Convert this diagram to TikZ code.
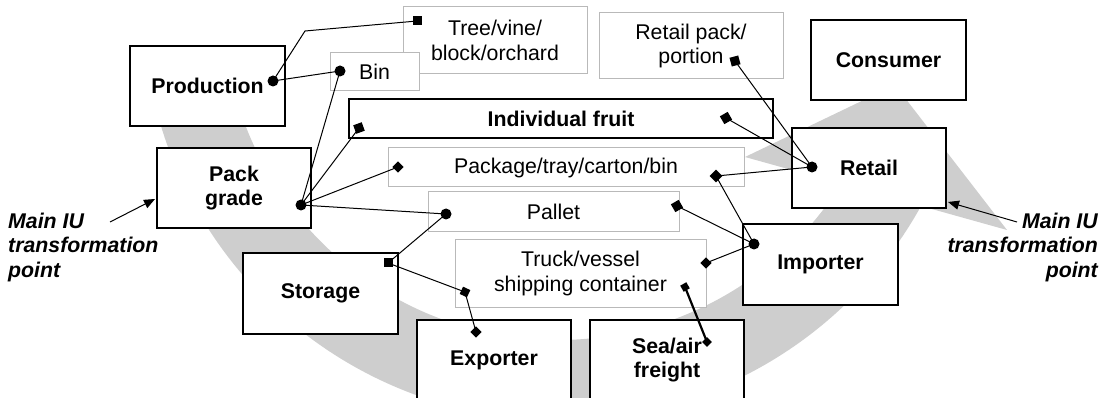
\documentclass[tikz,border=0pt]{standalone}
\usepackage{fontspec}
\setmainfont{Liberation Sans}
\usetikzlibrary{arrows.meta}
\definecolor{band}{RGB}{206,206,206}
\definecolor{lbox}{RGB}{185,185,185}
\begin{document}
\begin{tikzpicture}[x=1pt,y=-1pt,
  bbox/.style={draw=black, line width=1.1pt, fill=white, inner sep=0pt, align=center, font=\fontsize{21.3}{24.5}\selectfont\bfseries},
  tbox/.style={bbox, line width=1.5pt},
  gbox/.style={draw=lbox, line width=1pt, fill=white, inner sep=0pt, align=center, font=\fontsize{21.3}{24.5}\selectfont},
  mdot/.style={circle, fill=black, minimum size=11pt, inner sep=0pt},
  sq/.style={rectangle, fill=black, minimum size=9pt, inner sep=0pt},
  dm/.style={sq, minimum size=8pt, rotate=45},
  mlink/.style={line width=1pt},
  lbl/.style={inner sep=0pt, font=\fontsize{21.3}{24.5}\selectfont\bfseries\itshape}
]
\path[use as bounding box] (0,0) rectangle (1106,398);
\clip (0,0) rectangle (1106,398);

% grey band arrow
\fill[band] ([shift={(558,5)}]170:415) arc[start angle=170, end angle=28.97, radius=415]
  -- (1007,230) -- (895,85) -- (745,157)
  -- ([shift={(558,5)}]32.26:335) arc[start angle=32.26, end angle=170, radius=335] -- cycle;

% boxes
\node[tbox, minimum width=155pt, minimum height=80pt] (prod) at (207.5,86) {Production};
\node[gbox, minimum width=184pt, minimum height=67pt] (tree) at (495,40.5) {Tree/vine/\\block/orchard};
\node[gbox, minimum width=89pt, minimum height=38pt] (bin) at (374.5,72) {Bin};
\node[gbox, minimum width=184pt, minimum height=66pt] (rpack) at (691,46) {Retail pack/\\portion};
\node[tbox, minimum width=155pt, minimum height=80pt] (cons) at (888.5,60) {Consumer};
\node[bbox, minimum width=424pt, minimum height=39pt] (fruit) at (561,118.5) {Individual fruit};
\node[gbox, minimum width=356pt, minimum height=39pt] (pkg) at (566,167.5) {Package/tray/carton/bin};
\node[gbox, minimum width=251pt, minimum height=40pt] (pallet) at (553.5,212) {Pallet};
\node[gbox, minimum width=251pt, minimum height=67pt] (truck) at (580.5,273.5) {Truck/vessel\\shipping container};
\node[bbox, minimum width=154pt, minimum height=80pt] (pack) at (234,188) {Pack\\grade};
\node[bbox, minimum width=155pt, minimum height=81pt] (stor) at (320.5,293.5) {Storage};
\node[tbox, minimum width=154pt, minimum height=80pt] (exp) at (494,360) {Exporter};
\node[tbox, minimum width=154pt, minimum height=80pt] (sea) at (667,360) {Sea/air\\freight};
\node[bbox, minimum width=155pt, minimum height=81pt] (imp) at (820.5,264.5) {Importer};
\node[bbox, minimum width=154pt, minimum height=80pt] (ret) at (869,168) {Retail};

% markers
\node[mdot] (mprod) at (273,81) {};
\node[sq] (mtree) at (417,21) {};
\node[mdot] (mbin) at (340,71) {};
\node[sq, rotate=15] (mrpack) at (735,61) {};
\node[sq, rotate=20] (mfruitL) at (359,128) {};
\node[sq, rotate=30] (mfruitR) at (726,118) {};
\node[dm] (mpkgL) at (398,167) {};
\node[dm, minimum size=9pt] (mpkgR) at (716,176) {};
\node[mdot] (mpack) at (301,205) {};
\node[mdot] (mpalL) at (446,214) {};
\node[sq, rotate=30] (mpalR) at (677,206) {};
\node[sq] (mstor) at (388,263) {};
\node[dm, rotate=20] (mtruckL) at (465,292) {};
\node[dm] (mtruckR) at (706,263) {};
\node[sq, minimum size=7pt, rotate=30] (mtruckS) at (685,287) {};
\node[dm] (mexp) at (476,332) {};
\node[dm, minimum size=7pt] (msea) at (707,342) {};
\node[mdot] (mimp) at (754,244) {};
\node[mdot] (mret) at (812,167) {};

% connectors
\coordinate (bend) at (305,31);
\draw[mlink] (mprod.center) -- (bend) -- (mtree.center);
\draw[mlink] (mprod.center) -- (mbin.center);
\draw[mlink] (mbin.center) -- (mpack.center);
\draw[mlink] (mfruitL.center) -- (mpack.center);
\draw[mlink] (mpkgL.center) -- (mpack.center);
\draw[mlink] (mpalL.center) -- (mpack.center);
\draw[mlink] (mpalL.center) -- (mstor.center);
\draw[mlink] (mstor.center) -- (mtruckL.center);
\draw[mlink] (mtruckL.center) -- (mexp.center);
\draw[line width=2.2pt] (mtruckS.center) -- (msea.center);
\draw[mlink] (mtruckR.center) -- (mimp.center);
\draw[mlink] (mpalR.center) -- (mimp.center);
\draw[mlink] (mpkgR.center) -- (mimp.center);
\draw[mlink] (mpkgR.center) -- (mret.center);
\draw[mlink] (mfruitR.center) -- (mret.center);
\draw[mlink] (mrpack.center) -- (mret.center);

% side labels
\node[lbl, anchor=west, align=left] (lblL) at (8,247) {Main IU\\transformation\\point};
\node[lbl, anchor=east, align=right] (lblR) at (1098,247) {Main IU\\transformation\\point};
\coordinate (aL1) at (110,222);
\coordinate (aL2) at (155,199);
\coordinate (aR1) at (1017,222);
\coordinate (aR2) at (948,202);
\draw[line width=1pt, -{Triangle[length=11pt,width=9pt]}] (aL1) -- (aL2);
\draw[line width=1pt, -{Triangle[length=11pt,width=9pt]}] (aR1) -- (aR2);
\end{tikzpicture}
\end{document}
